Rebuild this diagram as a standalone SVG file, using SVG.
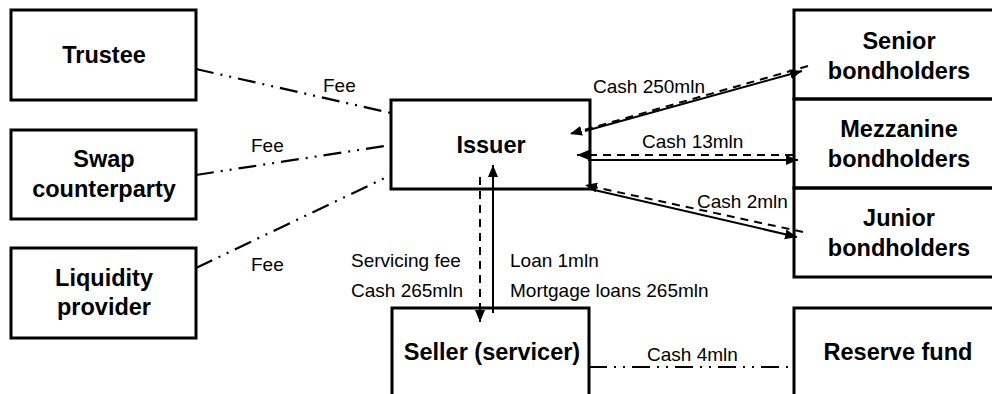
<svg xmlns="http://www.w3.org/2000/svg" width="992" height="394" viewBox="0 0 992 394">
<style>
.box{fill:#fff;stroke:#000;stroke-width:3}
.t{font-family:"Liberation Sans",Arial,sans-serif;font-weight:bold;font-size:23.5px;text-anchor:middle;fill:#000}
.l{font-family:"Liberation Sans",Arial,sans-serif;font-size:19px;fill:#000}
.dd{fill:none;stroke:#000;stroke-width:2.2;stroke-dasharray:18 7 2 7 2 7}
.sol{fill:none;stroke:#000;stroke-width:2}
.dsh{fill:none;stroke:#000;stroke-width:2;stroke-dasharray:8 6}
</style>
<defs>
<marker id="ah" markerUnits="userSpaceOnUse" markerWidth="13" markerHeight="11" refX="12" refY="5" orient="auto">
<path d="M0,0 L12,5 L0,10 z" fill="#000"/>
</marker>
</defs>
<g id="connectors">
<line class="dd" x1="196" y1="69" x2="391" y2="113"/>
<line class="dd" x1="196" y1="175" x2="391" y2="145"/>
<line class="dd" x1="196" y1="268" x2="391" y2="175"/>
<line class="dd" x1="589" y1="367" x2="794" y2="367"/>
<line class="sol" x1="585" y1="131" x2="802" y2="71" marker-end="url(#ah)"/>
<line class="dsh" x1="808" y1="66" x2="570" y2="134" marker-end="url(#ah)"/>
<line class="dsh" x1="793" y1="155" x2="577" y2="155" marker-end="url(#ah)"/>
<line class="sol" x1="588" y1="160" x2="798" y2="160" marker-end="url(#ah)"/>
<line class="dsh" x1="803" y1="232" x2="585" y2="185" marker-end="url(#ah)"/>
<line class="sol" x1="590" y1="189" x2="797" y2="237" marker-end="url(#ah)"/>
<line class="sol" x1="493" y1="313" x2="493" y2="165" marker-end="url(#ah)"/>
<line class="dsh" x1="480" y1="177" x2="480" y2="322" marker-end="url(#ah)"/>
<text class="l" x="323" y="92">Fee</text>
<text class="l" x="251" y="152">Fee</text>
<text class="l" x="251" y="271">Fee</text>
<text class="l" x="593" y="93">Cash 250mln</text>
<text class="l" x="642" y="148">Cash 13mln</text>
<text class="l" x="697" y="208">Cash 2mln</text>
<text class="l" x="351" y="267">Servicing fee</text>
<text class="l" x="351" y="297">Cash 265mln</text>
<text class="l" x="510" y="267">Loan 1mln</text>
<text class="l" x="510" y="297">Mortgage loans 265mln</text>
<text class="l" x="647" y="361">Cash 4mln</text>
</g>
<g id="trustee"><rect class="box" x="11" y="10" width="185" height="90"/><text class="t" x="104" y="63">Trustee</text></g>
<g id="swap"><rect class="box" x="11" y="130" width="185" height="89"/><text class="t" x="104" y="167">Swap</text><text class="t" x="104" y="197">counterparty</text></g>
<g id="liquidity"><rect class="box" x="11" y="248" width="185" height="90"/><text class="t" x="104" y="286">Liquidity</text><text class="t" x="104" y="315">provider</text></g>
<g id="issuer"><rect class="box" x="391" y="100" width="199" height="89" fill-opacity="0"/><text class="t" x="491" y="153">Issuer</text></g>
<g id="senior"><rect class="box" x="794" y="10" width="211" height="89" fill-opacity="0"/><text class="t" x="899" y="49">Senior</text><text class="t" x="899" y="79">bondholders</text></g>
<g id="mezzanine"><rect class="box" x="794" y="99" width="211" height="89" fill-opacity="0"/><text class="t" x="899" y="137">Mezzanine</text><text class="t" x="899" y="167">bondholders</text></g>
<g id="junior"><rect class="box" x="794" y="188" width="211" height="89" fill-opacity="0"/><text class="t" x="899" y="226">Junior</text><text class="t" x="899" y="256">bondholders</text></g>
<g id="seller"><rect class="box" x="392" y="308" width="197" height="100" fill-opacity="0"/><text class="t" x="492" y="360">Seller (servicer)</text></g>
<g id="reserve"><rect class="box" x="794" y="308" width="211" height="100"/><text class="t" x="898" y="360">Reserve fund</text></g>
</svg>
